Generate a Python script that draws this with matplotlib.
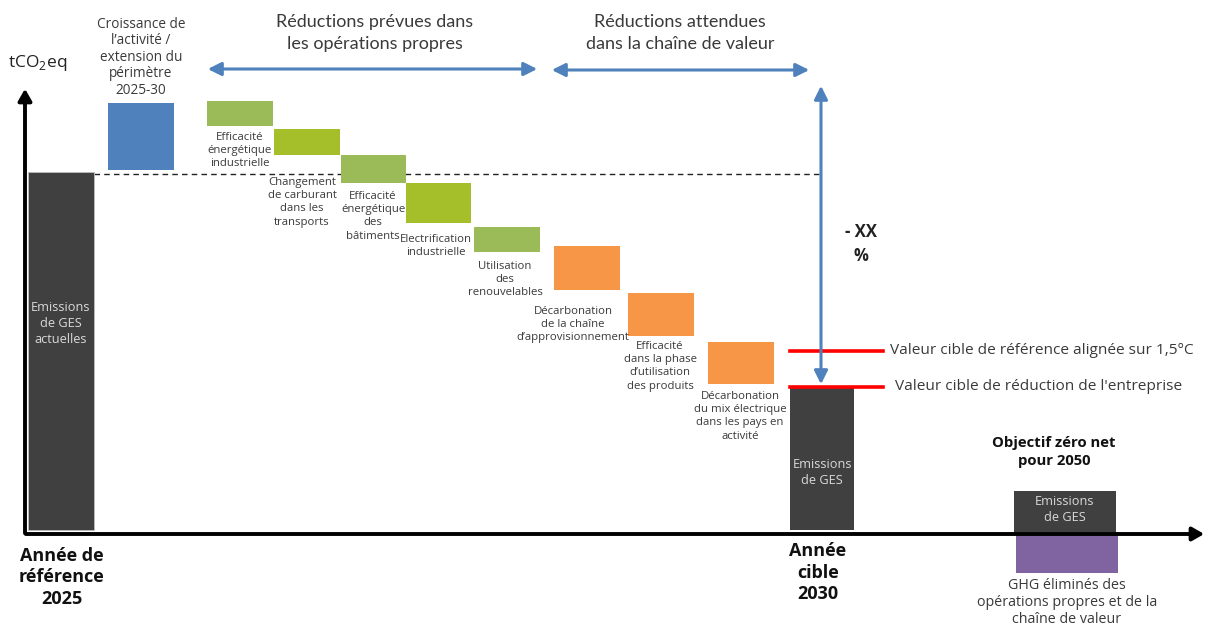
import matplotlib
matplotlib.use("Agg")
import matplotlib.pyplot as plt
from matplotlib.patches import FancyArrowPatch

plt.rcParams['font.family'] = ['Open Sans', 'DejaVu Sans']
plt.rcParams['mathtext.fontset'] = 'custom'
plt.rcParams['mathtext.rm'] = 'Open Sans'

# ---------------- data (tCO2eq, arbitrary units) ----------------
baseline_label = "Emissions\nde GES\nactuelles"
baseline_value = 100.0

step_labels = [
    "Croissance de\nl\u2019activit\u00e9 /\nextension du\np\u00e9rim\u00e8tre\n2025-30",
    "Efficacit\u00e9\n\u00e9nerg\u00e9tique\nindustrielle",
    "Changement\nde carburant\ndans les\ntransports",
    "Efficacit\u00e9\n\u00e9nerg\u00e9tique\ndes\nb\u00e2timents",
    "Electrification\nindustrielle",
    "Utilisation\ndes\nrenouvelables",
    "D\u00e9carbonation\nde la cha\u00eene\nd\u2019approvisionnement",
    "Efficacit\u00e9\ndans la phase\nd\u2019utilisation\ndes produits",
    "D\u00e9carbonation\ndu mix \u00e9lectrique\ndans les pays en\nactivit\u00e9",
]
step_start = [100.6, 119.8, 112.0, 104.7, 96.9, 84.6, 79.3, 66.2, 52.5]
step_end   = [119.3, 112.8, 104.7, 96.9, 85.8, 77.7, 67.0, 54.2, 40.8]
step_group = ["growth", "own", "own", "own", "own", "own", "chain", "chain", "chain"]

target_2030 = 39.9
reference_15c = 50.0
emissions_2050 = 12.0
removals_2050 = -12.0

# ---------------- layout ----------------
W, H = 1209, 628
fig = plt.figure(figsize=(W / 100, H / 100), dpi=100)
ax = fig.add_axes([0, 0, 1, 1])
Y0_PX, PX_PER_UNIT = 530.0, 3.58
ax.set_xlim(0, W)
ax.set_ylim((Y0_PX - H) / PX_PER_UNIT, Y0_PX / PX_PER_UNIT)
ax.axis('off')

def py(p):  # pixel row -> data y (for annotation placement only)
    return (Y0_PX - p) / PX_PER_UNIT

DARK = "#404040"
colors = {"growth": "#4f81bd", "chain": "#f79646"}
green_cycle = ["#9bbb59", "#a5bf2a"]

step_x = [141, 240, 307, 373.5, 438.5, 507, 587, 661, 741]
step_w = [66, 66, 66, 65, 65, 66, 66, 66, 66]
label_pos = [(141, 17), (240, 132), (302, 177), (373, 191), (436, 234),
             (505, 261), (573, 306), (660, 341), (740, 391)]
label_size = [9.8, 8.2, 8.2, 8.2, 8.2, 8.2, 8.2, 8.2, 8.2]
label_ls = [1.13, 1.28, 1.28, 1.28, 1.28, 1.28, 1.28, 1.28, 1.28]

TXT = "#3a3a3a"
# baseline bar
ax.bar(61, baseline_value, width=66, color=DARK, edgecolor="#bfbfbf", linewidth=0.6, zorder=3)
ax.text(61, py(301), baseline_label, ha='center', va='top', color="#d9d9d9",
        fontsize=9.2, linespacing=1.3, zorder=4)

# steps
g = 0
for i, (lab, s, e, grp) in enumerate(zip(step_labels, step_start, step_end, step_group)):
    if grp == "own":
        c = green_cycle[g % 2]
        g += 1
    else:
        c = colors[grp]
    ax.bar(step_x[i], e - s, bottom=s, width=step_w[i], color=c, zorder=3)
    lx, ly = label_pos[i]
    ax.text(lx, py(ly), lab, ha='center', va='top', color=TXT,
            fontsize=label_size[i], linespacing=label_ls[i], zorder=4)

# 2030 bar
ax.bar(822, target_2030, width=64, color=DARK, zorder=3)
ax.text(822, py(458), "Emissions\nde GES", ha='center', va='top', color="#d9d9d9",
        fontsize=9.2, linespacing=1.3, zorder=4)

# 2050 bars
ax.bar(1065, emissions_2050, bottom=-1.0, width=102, color=DARK, zorder=3)
ax.bar(1067, removals_2050 + 0.5, bottom=-0.5, width=102, color="#8064a2", zorder=3)
ax.text(1065, py(495), "Emissions\nde GES", ha='center', va='top', color="#d9d9d9",
        fontsize=9.2, linespacing=1.3, zorder=4)

# dashed baseline reference
ax.plot([94, 820], [py(174), py(174)], ls=(0, (4, 3)), color="#222222", lw=1.0, zorder=2)

# red target lines
ax.plot([790, 883], [reference_15c, reference_15c], color="#ff0000", lw=2.6, zorder=5)
ax.plot([790, 883], [target_2030, target_2030], color="#ff0000", lw=2.6, zorder=5)
ax.text(890, reference_15c, "Valeur cible de r\u00e9f\u00e9rence align\u00e9e sur 1,5\u00b0C",
        ha='left', va='center', fontsize=11.1, color=TXT)
ax.text(895, target_2030 + 0.2, "Valeur cible de r\u00e9duction de l'entreprise",
        ha='left', va='center', fontsize=11.1, color=TXT)

# axes arrows
ax.add_patch(FancyArrowPatch((25, py(536)), (25, py(86)), arrowstyle='-|>,head_length=7,head_width=4',
                             color='black', lw=2.8, mutation_scale=1, zorder=6))
ax.add_patch(FancyArrowPatch((23, py(534)), (1207, py(534)), arrowstyle='-|>,head_length=7,head_width=4',
                             color='black', lw=2.8, mutation_scale=1, zorder=6))

BLUE = "#4f81bd"
def dbl(p1, p2):
    ax.add_patch(FancyArrowPatch(p1, p2, arrowstyle='<|-|>,head_length=8,head_width=4',
                                 color=BLUE, lw=2.2, mutation_scale=1, zorder=6))

dbl((205, py(69)), (540, py(69)))
dbl((549, py(70)), (812, py(70)))
dbl((821, py(83)), (821, py(387)))

# headers
ax.text(375, py(14), "R\u00e9ductions pr\u00e9vues dans\nles op\u00e9rations propres",
        ha='center', va='top', fontsize=13, color=TXT, linespacing=1.48,
        family=['Lato', 'DejaVu Sans'])
ax.text(680, py(14), "R\u00e9ductions attendues\ndans la cha\u00eene de valeur",
        ha='center', va='top', fontsize=13, color=TXT, linespacing=1.48,
        family=['Lato', 'DejaVu Sans'])

# y-axis label
ax.text(8, py(63), r"tCO$_\mathregular{2}$eq", ha='left', va='center', fontsize=12.5, color="#222222")

# -XX %
ax.text(861, py(223), "- XX\n%", ha='center', va='top', fontsize=12, fontweight='bold',
        color="#222222", linespacing=1.45)

# x labels
ax.text(62, py(547), "Ann\u00e9e de\nr\u00e9f\u00e9rence\n2025", ha='center', va='top',
        fontsize=13, fontweight='bold', color="#111111", linespacing=1.25)
ax.text(818, py(542), "Ann\u00e9e\ncible\n2030", ha='center', va='top',
        fontsize=13, fontweight='bold', color="#111111", linespacing=1.25)
ax.text(1054, py(436), "Objectif z\u00e9ro net\npour 2050", ha='center', va='top',
        fontsize=10.7, fontweight='bold', color="#111111", linespacing=1.38)
ax.text(1067, py(578), "GHG \u00e9limin\u00e9s des\nop\u00e9rations propres et de la\ncha\u00eene de valeur",
        ha='center', va='top', fontsize=10.3, color=TXT, linespacing=1.18)

fig.savefig("out.png", dpi=100, facecolor="white")
